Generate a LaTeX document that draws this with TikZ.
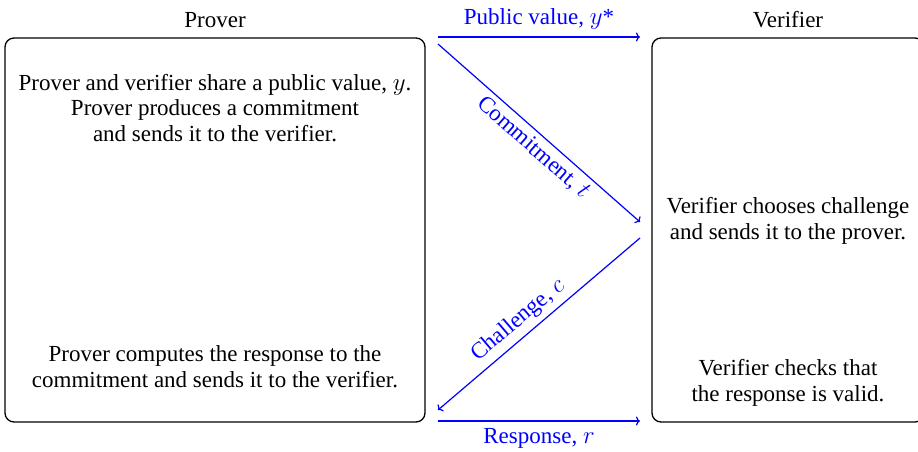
\documentclass[tikz,border=0pt]{standalone}
\usepackage{fontspec}
\setmainfont{Liberation Serif}
\usetikzlibrary{arrows.meta}
\begin{document}
\begin{tikzpicture}[x=1pt,y=-1pt,
  every node/.style={font=\fontsize{23}{25.8}\selectfont, inner sep=0pt},
  party/.style={draw, line width=1.3pt, rounded corners=9pt, rectangle},
  txt/.style={align=center},
  msg/.style={draw=blue, line width=1.2pt, -{To[length=4pt,width=9pt]}},
  msglabel/.style={text=blue, sloped}]
\useasboundingbox (0,0) rectangle (918,452);

% the two parties
\node[party, minimum width=420pt, minimum height=384pt] (prover) at (215,230) {};
\node[party, minimum width=272pt, minimum height=384pt] (verifier) at (788,230) {};
\node (provertitle) at (215,20) {Prover};
\node (verifiertitle) at (788,20) {Verifier};

% box contents
\node[txt] (p1) at (215,108) {Prover and verifier share a public value, $y$.\\Prover produces a commitment\\and sends it to the verifier.};
\node[txt] (p2) at (215,367) {Prover computes the response to the\\commitment and sends it to the verifier.};
\node[txt] (v1) at (788,221) {Verifier chooses challenge\\and sends it to the prover.};
\node[txt] (v2) at (788,383) {Verifier checks that\\the response is valid.};

% message end points
\coordinate (a1) at (438,37);  \coordinate (b1) at (640,37);
\coordinate (a2) at (438,44);  \coordinate (b2) at (640,222);
\coordinate (b3) at (640,238); \coordinate (a3) at (438,410);
\coordinate (a4) at (438,421); \coordinate (b4) at (640,421);

% messages
\draw[msg] (a1) -- node[msglabel, above=7pt] {Public value, $y$*} (b1);
\draw[msg] (a2) -- node[msglabel, below=5pt, pos=0.52] {Commitment, $t$} (b2);
\draw[msg] (b3) -- node[msglabel, above=5pt, pos=0.55] {Challenge, $c$} (a3);
\draw[msg] (a4) -- node[msglabel, below=7pt] {Response, $r$} (b4);
\end{tikzpicture}
\end{document}
